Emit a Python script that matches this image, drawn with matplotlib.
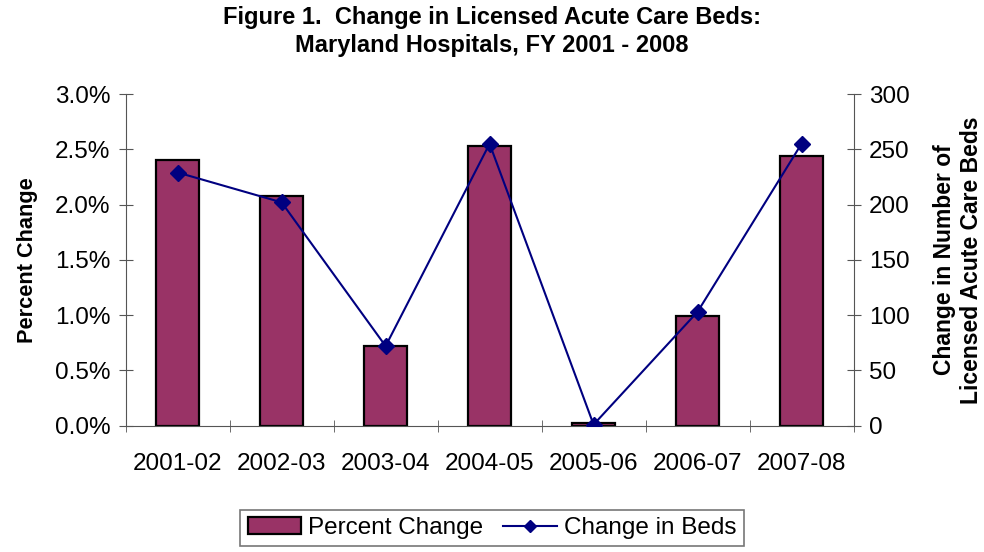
import matplotlib.pyplot as plt
import numpy as np
from matplotlib.ticker import FuncFormatter

plt.rcParams['font.family'] = ['Liberation Sans', 'DejaVu Sans']

years = ['2001-02', '2002-03', '2003-04', '2004-05', '2005-06', '2006-07', '2007-08']
pct_change = [2.40, 2.08, 0.72, 2.53, 0.02, 0.99, 2.44]
bed_change = [229, 202, 72, 255, 1, 103, 255]

bar_col = '#993366'
line_col = '#000080'

fig = plt.figure(figsize=(9.84, 5.52), dpi=100)
ax = fig.add_axes([0.1277, 0.2288, 0.7397, 0.6009])
ax2 = ax.twinx()

x = np.arange(len(years))
bars = ax.bar(x, pct_change, width=0.41, color=bar_col, edgecolor='black', linewidth=1.6,
              label='Percent Change', zorder=2)
line, = ax2.plot(x, bed_change, color=line_col, marker='D', markersize=8, linewidth=1.5,
                 label='Change in Beds', zorder=3)

ax.set_xlim(-0.5, len(years) - 0.5)
ax.set_ylim(0, 3.0)
ax2.set_ylim(0, 300)
ax.set_yticks(np.arange(0, 3.01, 0.5))
ax.yaxis.set_major_formatter(FuncFormatter(lambda v, p: '%.1f%%' % v))
ax2.set_yticks(np.arange(0, 301, 50))

ax.set_xticks(x)
ax.set_xticklabels(years)
ax.set_xticks(np.arange(-0.5, len(years)), minor=True)
ax.tick_params(axis='x', which='major', length=0, labelsize=17.5, pad=20)
ax.tick_params(axis='x', which='minor', length=8, direction='inout', color='#555555')
ax.tick_params(axis='y', length=10, direction='inout', labelsize=17.5, color='#555555', pad=6)
ax2.tick_params(axis='y', length=10, direction='inout', labelsize=17.5, color='#555555', pad=6)

for a in (ax, ax2):
    a.spines['top'].set_visible(False)
    for s in ('left', 'right', 'bottom'):
        a.spines[s].set_color('#555555')
ax.spines['right'].set_visible(False)
ax2.spines['left'].set_visible(False)
ax2.spines['bottom'].set_visible(False)

ax.set_ylabel('Percent Change', fontsize=15.7, fontweight='bold', labelpad=12)
ax2.set_ylabel('Change in Number of\nLicensed Acute Care Beds', fontsize=16.5, fontweight='bold',
               labelpad=17, linespacing=1.2)

fig.text(0.5, 1 - 6 / 552, 'Figure 1.  Change in Licensed Acute Care Beds:\nMaryland Hospitals, FY 2001 - 2008',
         ha='center', va='top', fontsize=17, fontweight='bold', linespacing=1.3)

leg = fig.legend([bars, line], ['Percent Change', 'Change in Beds'], loc='lower center',
                 bbox_to_anchor=(0.5, -0.012), ncol=2, fontsize=17.5, frameon=True, fancybox=False,
                 edgecolor='#555555', handlelength=2.2, columnspacing=0.8, handletextpad=0.3,
                 borderpad=0.3, markerscale=0.75)
leg.get_frame().set_linewidth(1.2)

fig.savefig('out.png', dpi=100)
